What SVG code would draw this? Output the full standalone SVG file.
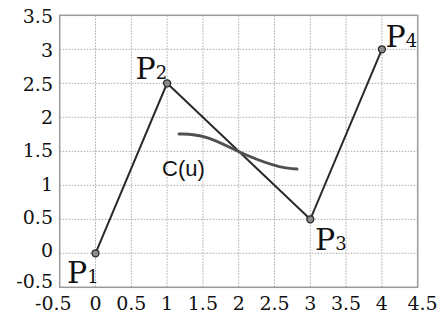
<svg xmlns="http://www.w3.org/2000/svg" width="443" height="322" viewBox="0 0 443 322">
<style>
.grid{stroke:#a8a8a8;stroke-width:1;stroke-dasharray:1.5 1.5;fill:none}
.frame{stroke:#9a9a9a;stroke-width:1.5;fill:none}
.tick{font-family:"DejaVu Serif","Liberation Serif",serif;font-size:19px;fill:#111}
.ylab{text-anchor:end}
.xlab{text-anchor:middle}
.edge{stroke:#2a2a2a;stroke-width:2;fill:none}
.pt{fill:#8a8a8a;stroke:#2a2a2a;stroke-width:1.3}
.plab{font-family:"DejaVu Serif","Liberation Serif",serif;font-size:30px;fill:#111}
.sub{font-size:18px}
.curve{stroke:#505050;stroke-width:3;fill:none;stroke-linecap:round}
.clab{font-family:"Liberation Sans",Arial,sans-serif;font-size:22px;fill:#111}
</style>
<rect width="443" height="322" fill="#fff"/>
<g id="grid">
<path class="grid" d="M95.5,15.3V287.3M131.3,15.3V287.3M167.1,15.3V287.3M202.9,15.3V287.3M238.7,15.3V287.3M274.5,15.3V287.3M310.3,15.3V287.3M346.1,15.3V287.3M381.9,15.3V287.3"/>
<path class="grid" d="M59.7,49.3H417.7M59.7,83.3H417.7M59.7,117.3H417.7M59.7,151.3H417.7M59.7,185.3H417.7M59.7,219.3H417.7M59.7,253.3H417.7"/>
<rect class="frame" x="59.7" y="15.3" width="358" height="272"/>
</g>
<g id="y-axis" class="tick ylab">
<text x="53" y="23.3">3.5</text>
<text x="53" y="56.7">3</text>
<text x="53" y="90.5">2.5</text>
<text x="53" y="124">2</text>
<text x="53" y="157.3">1.5</text>
<text x="53" y="190.7">1</text>
<text x="53" y="224">0.5</text>
<text x="53" y="256.7">0</text>
<text x="53" y="288.3">-0.5</text>
</g>
<g id="x-axis" class="tick xlab">
<text x="53.3" y="310">-0.5</text>
<text x="95.5" y="310">0</text>
<text x="131.3" y="310">0.5</text>
<text x="167.1" y="310">1</text>
<text x="202.9" y="310">1.5</text>
<text x="238.7" y="310">2</text>
<text x="274.5" y="310">2.5</text>
<text x="310.3" y="310">3</text>
<text x="346.1" y="310">3.5</text>
<text x="381.9" y="310">4</text>
<text x="422.5" y="310">4.5</text>
</g>
<g id="connectors">
<polyline class="edge" points="95.5,253.3 167.1,83.3 310.3,219.3 381.9,49.3"/>
</g>
<g id="curve">
<path class="curve" d="M179,134 C205,133 220,143 238.5,151.5 S280,169 297,169"/>
<text class="clab" x="162" y="176">C(u)</text>
</g>
<g id="P1">
<circle class="pt" cx="95.5" cy="253.3" r="3.5"/>
<text class="plab" x="67" y="283.3">P<tspan class="sub">1</tspan></text>
</g>
<g id="P2">
<circle class="pt" cx="167.1" cy="83.3" r="3.5"/>
<text class="plab" x="135.5" y="79.3">P<tspan class="sub">2</tspan></text>
</g>
<g id="P3">
<circle class="pt" cx="310.3" cy="219.3" r="3.5"/>
<text class="plab" x="315" y="250">P<tspan class="sub">3</tspan></text>
</g>
<g id="P4">
<circle class="pt" cx="381.9" cy="49.3" r="3.5"/>
<text class="plab" x="385.5" y="46.7">P<tspan class="sub">4</tspan></text>
</g>
</svg>
